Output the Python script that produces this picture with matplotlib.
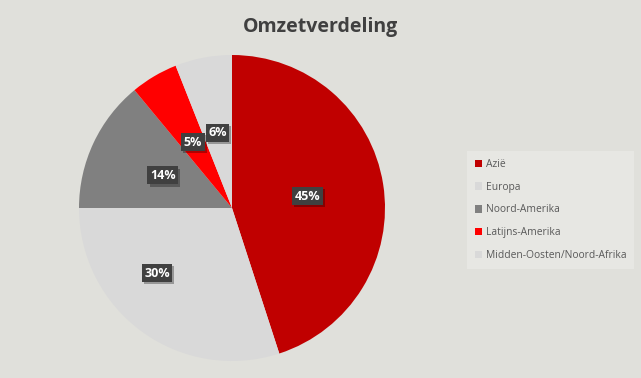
import numpy as np
import matplotlib.pyplot as plt
import matplotlib.patheffects as pe
from matplotlib.patches import Patch

regios = ['Azië', 'Europa', 'Noord-Amerika', 'Latijns-Amerika', 'Midden-Oosten/Noord-Afrika']
aandeel = [45, 30, 14, 5, 6]
kleuren = ['#c00000', '#d9d9d9', '#808080', '#ff0000', '#d9d9d9']
legend_kleuren = ['#c00000', '#d9d9d9', '#808080', '#ff0000', '#d9d9d9']

plt.rcParams['font.family'] = ['Open Sans', 'DejaVu Sans']
bg = '#e0e0db'

fig = plt.figure(figsize=(6.41, 3.78), dpi=100, facecolor=bg)
# pie centre ~ (232, 208) px, radius ~153 px
ax = fig.add_axes([(232 - 153) / 641, (378 - 208 - 153) / 378, 306 / 641, 306 / 378])
ax.set_facecolor(bg)

wedges, texts, autotexts = ax.pie(aandeel, colors=kleuren, startangle=90, counterclock=False,
                                  autopct='%1.0f%%', pctdistance=0.5, radius=1.0,
                                  wedgeprops=dict(linewidth=0))
ax.set_xlim(-1, 1)
ax.set_ylim(-1, 1)
ax.set_aspect('equal')

# Europa label sits further out in the reference
w = wedges[1]
theta = np.deg2rad((w.theta1 + w.theta2) / 2 - 13)
autotexts[1].set_position((0.65 * np.cos(theta), 0.65 * np.sin(theta)))

for t in autotexts:
    t.set_color('white')
    t.set_fontweight('bold')
    t.set_fontsize(9)
    t.set_bbox(dict(boxstyle='square,pad=0.2', facecolor='#404040', edgecolor='none'))
    t.get_bbox_patch().set_path_effects([pe.withSimplePatchShadow(offset=(1.5, -1.5), shadow_rgbFace='black', alpha=0.3)])

fig.text(0.5, 1 - 27 / 378, 'Omzetverdeling', ha='center', va='center',
         fontsize=14, fontweight='bold', color='#404040')

handles = [Patch(facecolor=c, edgecolor='none') for c in legend_kleuren]
leg = fig.legend(handles, regios, loc='center left', bbox_to_anchor=(467 / 641, 1 - 210 / 378),
                 frameon=True, fancybox=False, fontsize=7.4, labelcolor='#595959',
                 handlelength=0.75, handleheight=0.75, handletextpad=0.35, labelspacing=1.15,
                 borderpad=0.75, borderaxespad=0)
leg.get_frame().set_facecolor('#e9e9e6')
leg.get_frame().set_edgecolor('none')

fig.savefig('out.png', dpi=100, facecolor=bg)
